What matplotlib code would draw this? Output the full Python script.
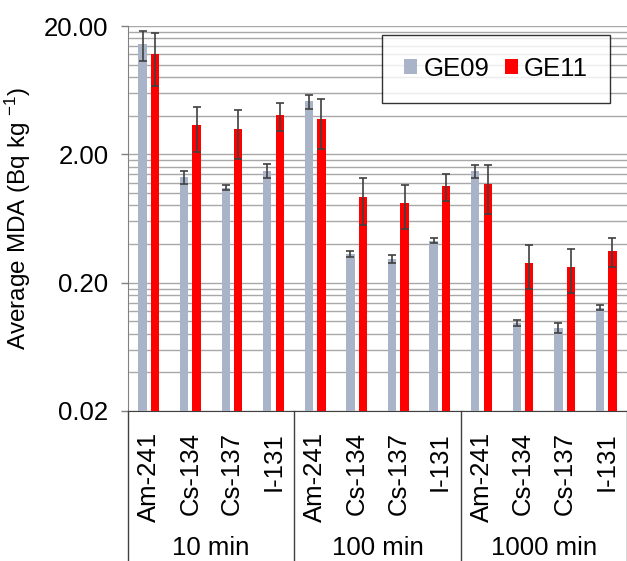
# -*- coding: utf-8 -*-
"""
Average MDA per detector, grouped by counting time (log scale bar chart)
"""
import numpy as np
import matplotlib
matplotlib.use('Agg')
import matplotlib.pyplot as plt
import matplotlib.ticker as mticker
import matplotlib.transforms as mtransforms

# %% data
groups = ['10 min', '100 min', '1000 min']
isotopes = ['Am-241', 'Cs-134', 'Cs-137', 'I-131']
labels = isotopes * len(groups)

ge09 = [14.5, 1.33, 1.10, 1.49, 5.2, 0.335, 0.307, 0.425, 1.48, 0.0975, 0.0885, 0.128]
ge09_err = [3.9, 0.15, 0.05, 0.18, 0.65, 0.02, 0.022, 0.02, 0.18, 0.005, 0.0077, 0.005]
ge11 = [12.2, 3.37, 3.15, 4.02, 3.78, 0.93, 0.835, 1.14, 1.17, 0.287, 0.265, 0.354]
ge11_err = [5.4, 1.29, 1.3, 0.98, 1.57, 0.37, 0.315, 0.27, 0.49, 0.109, 0.099, 0.09]

# set plot style
plt.rcParams['font.family'] = ['Liberation Sans', 'DejaVu Sans']
plt.rcParams['font.size'] = 18.5
plt.rcParams['mathtext.fontset'] = 'custom'
plt.rcParams['mathtext.rm'] = 'Liberation Sans'
plt.rcParams.update({'mathtext.default': 'regular'})  # not italics

grey = '#a9b4c9'
red = '#ff0000'
ecol = '#404040'

# %% plot
fig = plt.figure(figsize=(6.27, 5.61), dpi=100)
ax = fig.add_axes([128/627, 150/561, 499/627, 385/561])

x = np.arange(len(labels))
w = 0.2
ax.bar(x - 0.15, ge09, w, color=grey, label='GE09', zorder=3)
ax.bar(x + 0.15, ge11, w, color=red, label='GE11', zorder=3)
ax.errorbar(x - 0.15, ge09, yerr=ge09_err, fmt='none', ecolor=ecol,
            elinewidth=1.2, capsize=3, capthick=1.2, zorder=4)
ax.errorbar(x + 0.15, ge11, yerr=ge11_err, fmt='none', ecolor=ecol,
            elinewidth=1.2, capsize=3, capthick=1.2, zorder=4)

ax.set_yscale('log')
ax.set_ylim(0.02, 20)
ax.set_xlim(-0.5, len(labels) - 0.5)

# major ticks at 2*10^n, gridlines at every multiple of 2*10^n
ax.yaxis.set_major_locator(mticker.FixedLocator([0.02, 0.2, 2, 20]))
ax.yaxis.set_major_formatter(mticker.FormatStrFormatter('%.2f'))
minor = np.concatenate([np.arange(2, 10) * 0.02 * 10**d for d in range(3)])
ax.yaxis.set_minor_locator(mticker.FixedLocator(minor))
ax.yaxis.set_minor_formatter(mticker.NullFormatter())
ax.grid(which='both', axis='y', color='#a8a8a8', lw=1, zorder=0)
ax.tick_params(axis='y', which='major', length=5, width=1, color='#808080', pad=9)
ax.tick_params(axis='y', which='minor', length=2, direction='in', color='#b0b0b0')

ax.set_xticks(x)
ax.set_xticklabels(labels, rotation=90)
ax.tick_params(axis='x', length=0, pad=15)

for s in ['top', 'right']:
    ax.spines[s].set_visible(False)
ax.spines['left'].set_color('#808080')
ax.spines['bottom'].set_color('#404040')

ax.set_ylabel('Average MDA (Bq kg $^{-1}$)', fontsize=17.5)
ax.yaxis.set_label_coords(-0.19, 0.5)

# group labels and separators under the axis
trans = mtransforms.blended_transform_factory(ax.transData, ax.transAxes)
for i, g in enumerate(groups):
    ax.text(4*i + 1.5, -0.355, g, transform=trans, ha='center', va='center')
for xs in [-0.5, 3.5, 7.5, 11.5]:
    ax.plot([xs, xs], [0, -0.4], transform=trans, color='#404040', lw=1, clip_on=False)

leg = ax.legend(loc='upper left', bbox_to_anchor=(0.51, 0.977), borderaxespad=0,
                ncol=2, frameon=True, fancybox=False, edgecolor='black',
                handlelength=0.5, handleheight=0.5, handletextpad=0.25,
                columnspacing=0.6, borderpad=0.85)
leg.get_frame().set_linewidth(1)

fig.savefig('out.png', dpi=100)
